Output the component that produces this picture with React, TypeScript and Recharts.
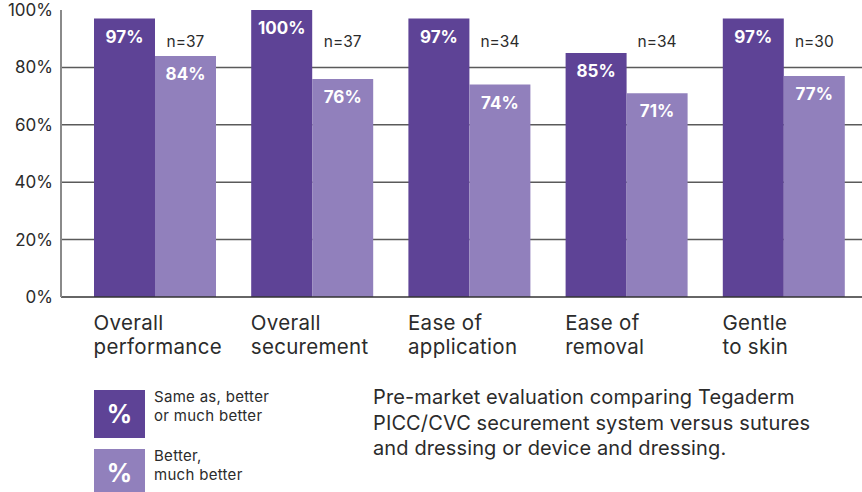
import { BarChart, Bar, XAxis, YAxis, CartesianGrid, LabelList } from "recharts"

const categories = [
  "Overall performance",
  "Overall securement",
  "Ease of application",
  "Ease of removal",
  "Gentle to skin",
]
const tickLines = [
  ["Overall", "performance"],
  ["Overall", "securement"],
  ["Ease of", "application"],
  ["Ease of", "removal"],
  ["Gentle", "to skin"],
]
const sameOrBetter = [97, 100, 97, 85, 97]
const betterMuchBetter = [84, 76, 74, 71, 77]
const sampleSizes = [37, 37, 34, 34, 30]
const yTicks = [0, 20, 40, 60, 80, 100]
const gridValues = [20, 40, 60, 80]

const DARK = "#5E4396"
const LIGHT = "#9180BC"
const TEXT = "#2b2b2b"
const FONT = "Inter, 'Open Sans', sans-serif"
const BAR_SIZE = 61
const N_LABEL_LEVEL = 87

const data = categories.map((name, i) => ({
  name,
  same: sameOrBetter[i],
  better: betterMuchBetter[i],
  n: sampleSizes[i],
}))

const CategoryTick = (props: any) => {
  const { x, y, index } = props
  const lines = tickLines[index] || [props.payload.value]
  return (
    <text
      x={x - BAR_SIZE}
      y={y}
      textAnchor="start"
      fill={TEXT}
      fontSize={20.5}
      letterSpacing={0.3}
      fontFamily={FONT}
    >
      {lines.map((line: string, i: number) => (
        <tspan key={i} x={x - BAR_SIZE} y={y + 33 + i * 24}>
          {line}
        </tspan>
      ))}
    </text>
  )
}

const ValueLabel = (props: any) => {
  const { x, y, width, value } = props
  return (
    <text
      x={Number(x) + Number(width) / 2}
      y={Number(y) + 24}
      textAnchor="middle"
      fill="#fff"
      fontSize={17}
      fontWeight={700}
      fontFamily={FONT}
    >
      {value}%
    </text>
  )
}

// n= labels sit at a fixed level above the light bars
const SampleLabel = (props: any) => {
  const { x, y, width, height, value, index } = props
  const bottom = Number(y) + Number(height)
  const perUnit = Number(height) / betterMuchBetter[index]
  return (
    <text
      x={Number(x) + Number(width) / 2}
      y={bottom - N_LABEL_LEVEL * perUnit}
      textAnchor="middle"
      fill={TEXT}
      fontSize={15.5}
      fontFamily={FONT}
    >
      n={value}
    </text>
  )
}

const legendItems = [
  { color: DARK, top: 390, lines: ["Same as, better", "or much better"] },
  { color: LIGHT, top: 449, lines: ["Better,", "much better"] },
]

export default function App() {
  return (
    <div
      style={{
        position: "absolute",
        left: 0,
        top: 0,
        width: 862,
        height: 492,
        overflow: "hidden",
        background: "#fff",
        fontFamily: FONT,
      }}
    >
      <div style={{ position: "absolute", left: 0, top: 0 }}>
        <BarChart
          width={862}
          height={492}
          data={data}
          margin={{ top: 10, right: 0, left: 0, bottom: 125 }}
          barGap={0}
          barSize={BAR_SIZE}
        >
          <CartesianGrid
            vertical={false}
            horizontalValues={gridValues}
            stroke="#5a5a5a"
            strokeWidth={1.5}
          />
          <XAxis
            dataKey="name"
            interval={0}
            tickLine={false}
            tickSize={0}
            tickMargin={0}
            height={70}
            padding={{ left: 15, right: 0 }}
            axisLine={{ stroke: "#333", strokeWidth: 1.5 }}
            tick={<CategoryTick />}
          />
          <YAxis
            width={61}
            domain={[0, 100]}
            ticks={yTicks}
            tickFormatter={(v) => `${v}%`}
            tickLine={false}
            tickSize={0}
            tickMargin={8}
            axisLine={{ stroke: "#8a8a8a", strokeWidth: 2 }}
            tick={{ fill: TEXT, fontSize: 17, fontFamily: FONT }}
          />
          <Bar dataKey="same" fill={DARK} isAnimationActive={false}>
            <LabelList dataKey="same" content={<ValueLabel />} />
          </Bar>
          <Bar dataKey="better" fill={LIGHT} isAnimationActive={false}>
            <LabelList dataKey="better" content={<ValueLabel />} />
            <LabelList dataKey="n" content={<SampleLabel />} />
          </Bar>
        </BarChart>
      </div>

      {legendItems.map((item) => (
        <div key={item.top}>
          <div
            style={{
              position: "absolute",
              left: 94,
              top: item.top,
              width: 51,
              height: 48,
              background: item.color,
              color: "#fff",
              fontWeight: 700,
              fontSize: 25,
              display: "flex",
              alignItems: "center",
              justifyContent: "center",
            }}
          >
            %
          </div>
          <div
            style={{
              position: "absolute",
              left: 154,
              top: item.top - 3,
              fontSize: 15,
              letterSpacing: 0.3,
              lineHeight: "19px",
              color: TEXT,
              whiteSpace: "nowrap",
            }}
          >
            {item.lines.map((l) => (
              <div key={l}>{l}</div>
            ))}
          </div>
        </div>
      ))}

      <div
        style={{
          position: "absolute",
          left: 373,
          top: 385,
          fontSize: 20,
          letterSpacing: 0.12,
          lineHeight: "25.5px",
          color: TEXT,
          whiteSpace: "nowrap",
        }}
      >
        <div>Pre-market evaluation comparing Tegaderm</div>
        <div>PICC/CVC securement system versus sutures</div>
        <div>and dressing or device and dressing.</div>
      </div>
    </div>
  )
}
